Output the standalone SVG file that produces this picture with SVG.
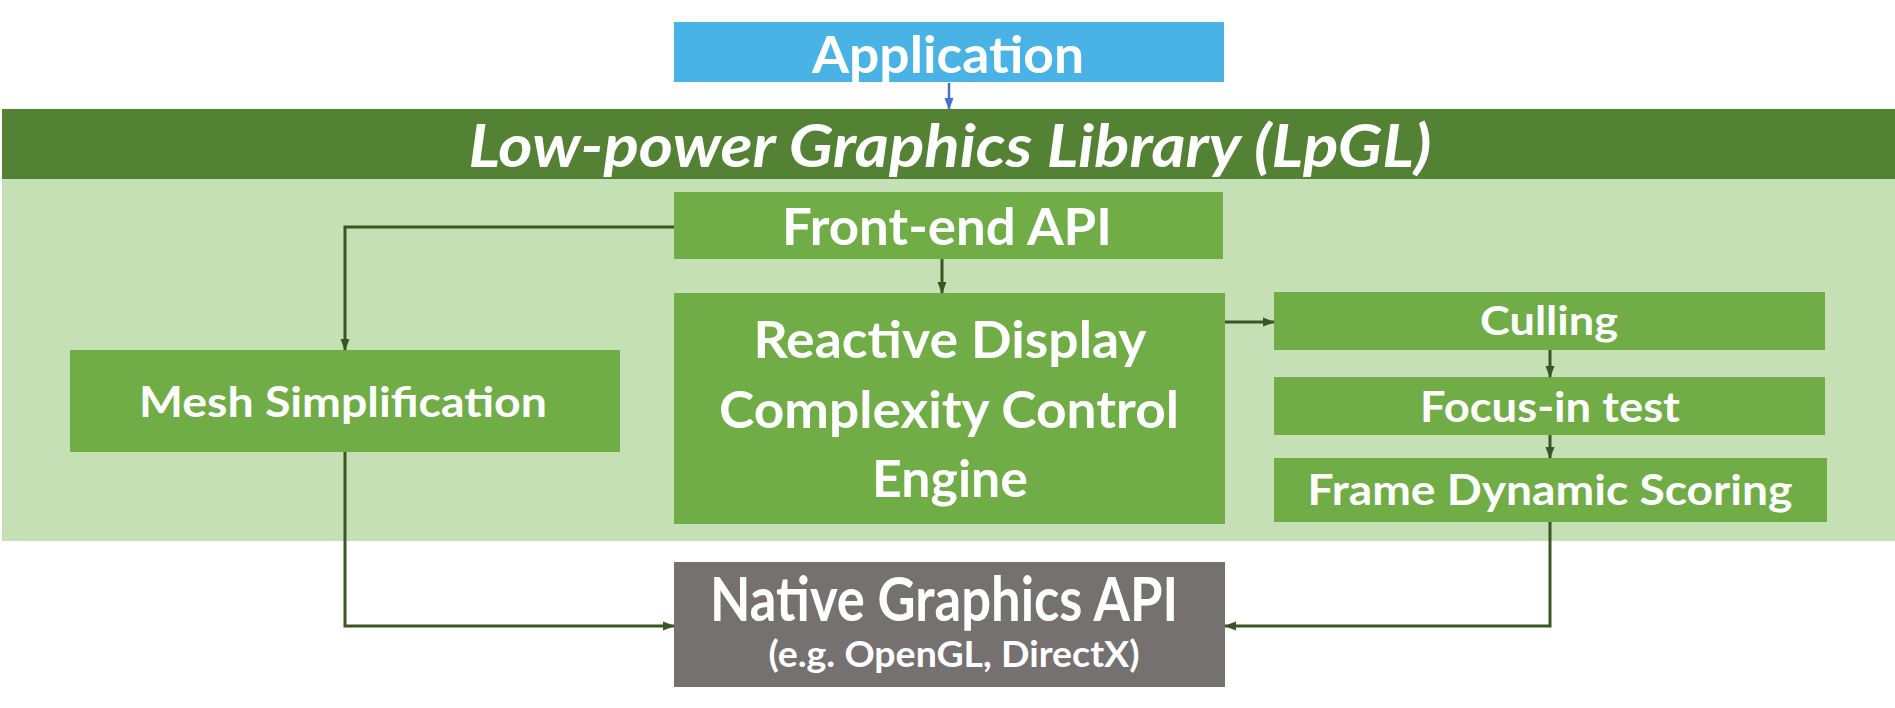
<svg xmlns="http://www.w3.org/2000/svg" width="1895" height="708" viewBox="0 0 1895 708">
<defs>
<style>
.t{font-family:Lato,"Noto Sans","Liberation Sans",sans-serif;font-weight:bold;fill:#fff;text-anchor:middle}
.box{fill:#70AD47}
.conn{fill:none;stroke:#385723;stroke-width:3}
</style>
<marker id="ah" markerWidth="12" markerHeight="10" refX="11" refY="5" orient="auto" markerUnits="userSpaceOnUse" viewBox="0 0 12 10"><path d="M0,0.5 L12,5 L0,9.5 Z" fill="#385723"/></marker>
<marker id="ahb" markerWidth="12" markerHeight="10" refX="11" refY="5" orient="auto" markerUnits="userSpaceOnUse" viewBox="0 0 12 10"><path d="M0,0.5 L12,5 L0,9.5 Z" fill="#4472C4"/></marker>
</defs>
<rect width="1895" height="708" fill="#fff"/>
<g id="lpgl">
<rect x="2" y="179" width="1893" height="362" fill="#C5E0B4"/>
<rect x="2" y="109" width="1893" height="70" fill="#548235"/>
<text class="t" x="950" y="167" font-size="59" font-style="italic" textLength="963" lengthAdjust="spacingAndGlyphs">Low-power Graphics Library (LpGL)</text>
</g>
<g id="application">
<rect x="674" y="22" width="550" height="60" fill="#48B3E4"/>
<text class="t" x="948" y="73" font-size="51" textLength="272" lengthAdjust="spacingAndGlyphs">Application</text>
</g>
<g id="frontend">
<rect class="box" x="674" y="192" width="549" height="67"/>
<text class="t" x="947" y="245" font-size="51" textLength="330" lengthAdjust="spacingAndGlyphs">Front-end API</text>
</g>
<g id="reactive">
<rect class="box" x="674" y="293" width="551" height="231"/>
<text class="t" x="950" y="358" font-size="51" textLength="393" lengthAdjust="spacingAndGlyphs">Reactive Display</text>
<text class="t" x="949" y="428" font-size="51" textLength="460" lengthAdjust="spacingAndGlyphs">Complexity Control</text>
<text class="t" x="950" y="497" font-size="51" textLength="156" lengthAdjust="spacingAndGlyphs">Engine</text>
</g>
<g id="mesh">
<rect class="box" x="70" y="350" width="550" height="102"/>
<text class="t" x="343" y="417" font-size="42" textLength="408" lengthAdjust="spacingAndGlyphs">Mesh Simplification</text>
</g>
<g id="culling">
<rect class="box" x="1274" y="292" width="551" height="58"/>
<text class="t" x="1549" y="335" font-size="41" textLength="138" lengthAdjust="spacingAndGlyphs">Culling</text>
</g>
<g id="focus">
<rect class="box" x="1274" y="377" width="551" height="58"/>
<text class="t" x="1550" y="422" font-size="42" textLength="260" lengthAdjust="spacingAndGlyphs">Focus-in test</text>
</g>
<g id="frame">
<rect class="box" x="1274" y="458" width="553" height="64"/>
<text class="t" x="1550" y="505" font-size="42" textLength="485" lengthAdjust="spacingAndGlyphs">Frame Dynamic Scoring</text>
</g>
<g id="native">
<rect x="674" y="562" width="551" height="125" fill="#767171"/>
<text class="t" x="944" y="621" font-size="61" textLength="468" lengthAdjust="spacingAndGlyphs">Native Graphics API</text>
<text class="t" x="954" y="667" font-size="36" textLength="371" lengthAdjust="spacingAndGlyphs">(e.g. OpenGL, DirectX)</text>
</g>
<g id="connectors">
<path d="M949,83 L949,109" fill="none" stroke="#4472C4" stroke-width="2.5" marker-end="url(#ahb)"/>
<path class="conn" d="M674,227 L345,227 L345,350" marker-end="url(#ah)"/>
<path class="conn" d="M942,259 L942,293" marker-end="url(#ah)"/>
<path class="conn" d="M1225,322 L1274,322" marker-end="url(#ah)"/>
<path class="conn" d="M1550,350 L1550,377" marker-end="url(#ah)"/>
<path class="conn" d="M1550,435 L1550,458" marker-end="url(#ah)"/>
<path class="conn" d="M345,452 L345,626 L674,626" marker-end="url(#ah)"/>
<path class="conn" d="M1550,522 L1550,626 L1225,626" marker-end="url(#ah)"/>
</g>
</svg>
